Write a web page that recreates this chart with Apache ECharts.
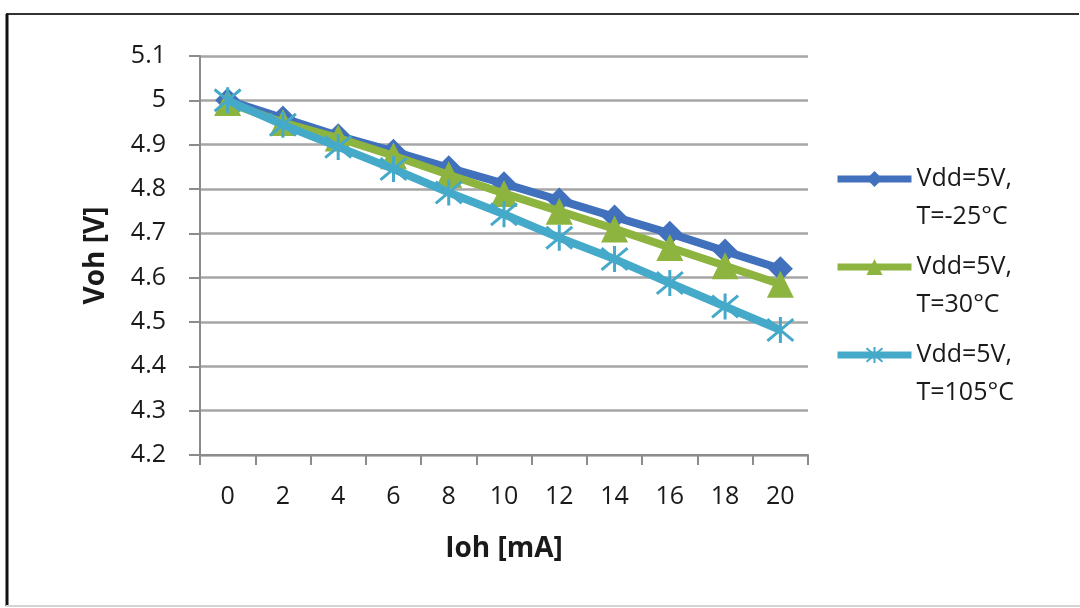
<!DOCTYPE html>
<html>
<head>
<meta charset="utf-8">
<script src="https://cdn.jsdelivr.net/npm/echarts@6/dist/echarts.min.js"></script>
<style>html,body{margin:0;padding:0;background:#fff}#c{width:1080px;height:608px}</style>
</head>
<body>
<div id="c"></div>
<script>
var categories = ['0','2','4','6','8','10','12','14','16','18','20'];
var seriesNames = ['Vdd=5V,\nT=-25°C', 'Vdd=5V,\nT=30°C', 'Vdd=5V,\nT=105°C'];
var tMinus25 = [5.0, 4.96, 4.92, 4.885, 4.848, 4.812, 4.775, 4.737, 4.70, 4.66, 4.62];
var t30 = [4.995, 4.95, 4.915, 4.875, 4.832, 4.79, 4.75, 4.71, 4.668, 4.627, 4.585];
var t105 = [5.0, 4.945, 4.895, 4.845, 4.792, 4.743, 4.69, 4.642, 4.588, 4.535, 4.482];
var yTicks = {min: 4.2, max: 5.1, interval: 0.1};

var font = 'Open Sans';
var chart = echarts.init(document.getElementById('c'));
var starPath = 'path://M0,0L10,10M10,0L0,10M5,-1L5,11';
chart.setOption({
  animation: false,
  backgroundColor: '#fff',
  title: {
    text: 'High-side voltage dropping by output capability',
    left: 'center', top: -27.5,
    textStyle: {fontFamily: font, fontSize: 22, fontWeight: 'bold', color: '#000'}
  },
  grid: {left: 200, right: 272, top: 56, bottom: 153, containLabel: false},
  legend: {
    orient: 'vertical',
    left: 829, top: 117,
    itemWidth: 74, itemHeight: 20,
    itemGap: -26,
    data: seriesNames,
    formatter: function (n) { return ' \n' + n; },
    lineStyle: {width: 7},
    textStyle: {fontFamily: font, fontSize: 25, color: '#1a1a1a', lineHeight: 38}
  },
  xAxis: {
    type: 'category',
    data: categories,
    boundaryGap: true,
    name: 'Ioh [mA]',
    nameLocation: 'middle',
    nameGap: 80,
    nameTextStyle: {fontFamily: font, fontSize: 28, fontWeight: 'bold', color: '#1a1a1a'},
    axisLine: {lineStyle: {color: '#8c8c8c', width: 2}},
    axisTick: {show: true, alignWithLabel: false, length: 10, lineStyle: {color: '#8c8c8c', width: 2}},
    axisLabel: {fontFamily: font, fontSize: 25, color: '#1a1a1a', margin: 29},
    splitLine: {show: false}
  },
  yAxis: {
    type: 'value',
    min: yTicks.min, max: yTicks.max, interval: yTicks.interval,
    name: 'Voh [V]',
    nameLocation: 'middle',
    nameGap: 90,
    nameTextStyle: {fontFamily: font, fontSize: 28, fontWeight: 'bold', color: '#1a1a1a'},
    axisLine: {show: true, lineStyle: {color: '#8c8c8c', width: 2}},
    axisTick: {show: true, length: 11, lineStyle: {color: '#8c8c8c', width: 2}},
    axisLabel: {fontFamily: font, fontSize: 25, color: '#1a1a1a', margin: 34},
    splitLine: {show: true, lineStyle: {color: '#a6a6a6', width: 2.5}}
  },
  series: [
    {
      name: seriesNames[0], type: 'line', data: tMinus25,
      symbol: 'diamond', symbolSize: 25,
      lineStyle: {color: '#4170bd', width: 8},
      itemStyle: {color: '#4170bd'}, z: 2
    },
    {
      name: seriesNames[1], type: 'line', data: t30,
      symbol: 'triangle', symbolSize: 27,
      lineStyle: {color: '#8eb440', width: 8},
      itemStyle: {color: '#8eb440'}, z: 3
    },
    {
      name: seriesNames[2], type: 'line', data: t105,
      symbol: starPath, symbolSize: 26,
      lineStyle: {color: '#45a9c9', width: 8},
      itemStyle: {color: 'rgba(0,0,0,0)', borderColor: '#45a9c9', borderWidth: 3}, z: 4
    }
  ],
  graphic: [
    {type: 'line', shape: {x1: 6, y1: 14, x2: 1079, y2: 14}, style: {stroke: '#333', lineWidth: 2}, silent: true},
    {type: 'line', shape: {x1: 7, y1: 14, x2: 7, y2: 606}, style: {stroke: '#111', lineWidth: 3}, silent: true},
    {type: 'line', shape: {x1: 6, y1: 606, x2: 1080, y2: 606}, style: {stroke: '#d4d4d4', lineWidth: 2}, silent: true}
  ]
});
</script>
</body>
</html>
